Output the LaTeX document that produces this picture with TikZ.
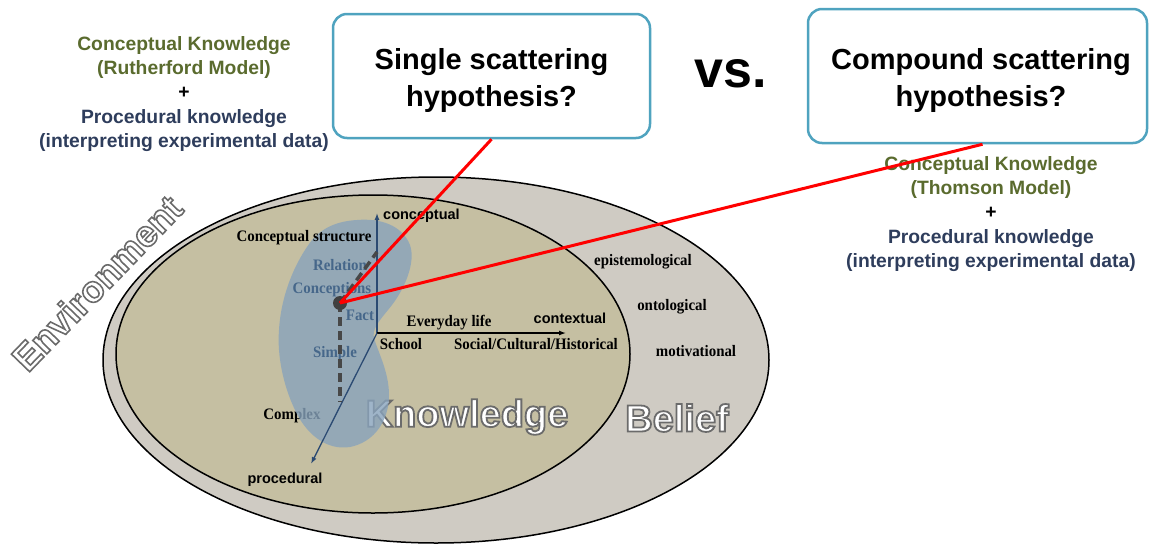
\documentclass[tikz,border=0pt]{standalone}
\usepackage{fontspec}
\setmainfont{Liberation Serif}
\setsansfont{Liberation Sans}
\usetikzlibrary{calc,arrows.meta,shapes.geometric}
\definecolor{olivetxt}{HTML}{5A6B2E}
\definecolor{navytxt}{HTML}{2E3D5C}
\definecolor{boxborder}{HTML}{4FA3BF}
\definecolor{ringfill}{HTML}{CFCBC3}
\definecolor{khaki}{HTML}{C5BFA2}
\definecolor{blobfill}{HTML}{88A3BC}
\definecolor{blobtxt}{HTML}{46678A}
\definecolor{axisblue}{HTML}{2B4A72}
\newcommand\strokedtext[3]{{\color{white}\special{pdf:code 2 Tr #1 G #2 w}#3\special{pdf:code 0 Tr 1 w}}}
\tikzset{
  x=1pt, y=-1pt,
  serif/.style={font=\fontsize{16}{16}\selectfont\bfseries, inner sep=0pt, xscale=0.93},
  bluelab/.style={serif, text=blobtxt},
  sanslab/.style={font=\sffamily\bfseries\fontsize{14.5}{15}\selectfont, inner sep=0pt},
  bigword/.style={font=\sffamily\bfseries\fontsize{38}{38}\selectfont, inner sep=0pt},
  envword/.style={font=\sffamily\bfseries\fontsize{37}{38}\selectfont, inner sep=0pt, rotate=46},
  infoblock/.style={font=\sffamily\bfseries\fontsize{19.3}{24.3}\selectfont, align=center, inner sep=0pt},
  hypbox/.style={draw=boxborder, line width=2.5pt, rounded corners=14pt, fill=white},
  hyptext/.style={font=\sffamily\bfseries\fontsize{29}{37}\selectfont, align=center, inner sep=0pt},
  axisline/.style={line width=1.3pt, -{Latex[length=7pt,width=5pt]}},
  dashedpath/.style={dash pattern=on 9pt off 5pt, line width=3.5pt, black!72},
  redline/.style={red, line width=3pt},
  ellbox/.style={draw=black, line width=1.5pt, shape=ellipse, inner sep=0pt}
}
\begin{document}
\begin{tikzpicture}
\useasboundingbox (0,0) rectangle (1149,544);
% ellipses
\node[ellbox, fill=ringfill, minimum width=666pt, minimum height=366pt] (outer) at (436,360) {};
\node[ellbox, fill=khaki, minimum width=514pt, minimum height=318pt] (inner) at (373,354) {};
% Environment
\node[envword] (env) at (97,283) {\strokedtext{0.42}{1.6}{Environment}};
% Knowledge / Belief
\node[bigword] (know) at (467,417) {\strokedtext{0.42}{1.8}{Knowledge}};
\node[bigword] (bel) at (677,418) {\strokedtext{0.42}{1.8}{Belief}};
\node[serif] (complex) at (292,416) {Complex};
% blob
\fill[blobfill, opacity=0.8] (357,220) .. controls (380,218) and (402,225) .. (410,245)
  .. controls (416,262) and (405,290) .. (388,310)
  .. controls (378,322) and (372,330) .. (374,338)
  .. controls (378,352) and (389,372) .. (389,395)
  .. controls (389,420) and (375,442) .. (350,447)
  .. controls (325,451) and (305,432) .. (295,410)
  .. controls (283,385) and (277,355) .. (279,330)
  .. controls (281,295) and (295,262) .. (312,240)
  .. controls (324,226) and (340,221) .. (357,220) -- cycle;
% axes
\coordinate (O) at (377,333);
\coordinate (ctop) at (377,213);
\coordinate (cright) at (566,333);
\coordinate (cproc) at (311,464);
\draw[axisline, axisblue] (O) -- (ctop);
\draw[axisline, black] (O) -- (cright);
\draw[axisline, axisblue] (O) -- (cproc);
% labels
\node[sanslab, anchor=west] (lconc) at (383,216) {conceptual};
\node[sanslab] (lcont) at (570,318) {contextual};
\node[sanslab] (lproc) at (285,480) {procedural};
\node[serif] (cstruct) at (304,238) {Conceptual structure};
\node[bluelab] (rel) at (340,265) {Relation};
\node[bluelab] (concs) at (332,290) {Conceptions};
\node[bluelab] (fact) at (360,315) {Fact};
\node[bluelab] (simple) at (335,354) {Simple};
\node[serif] (school) at (401,344) {School};
\node[serif] (every) at (449,323) {Everyday life};
\node[serif] (social) at (536,344) {Social/Cultural/Historical};
\node[serif] (epi) at (643,262) {epistemological};
\node[serif] (onto) at (672,307) {ontological};
\node[serif] (moti) at (696,351) {motivational};
% dashed lines and dot
\coordinate (dup) at (377,252);
\coordinate (ddown) at (340,402);
\coordinate (dotc) at (340,303);
\draw[dashedpath] (dotc) -- (dup);
\draw[dashedpath] (dotc) -- (ddown);
\node[circle, fill=black!75, minimum size=14pt, inner sep=0pt] (dot) at (dotc) {};
% text blocks
\node[infoblock] (left) at (184,94) {\textcolor{olivetxt}{Conceptual Knowledge}\\ \textcolor{olivetxt}{(Rutherford Model)}\\ \textcolor{black}{+}\\ \textcolor{navytxt}{Procedural knowledge}\\ \textcolor{navytxt}{(interpreting experimental data)}};
\node[infoblock] (right) at (991,214) {\textcolor{olivetxt}{Conceptual Knowledge}\\ \textcolor{olivetxt}{(Thomson Model)}\\ \textcolor{black}{+}\\ \textcolor{navytxt}{Procedural knowledge}\\ \textcolor{navytxt}{(interpreting experimental data)}};
% boxes
\node[hypbox, minimum width=317pt, minimum height=124pt] (box1) at (491.5,76) {};
\node[hyptext] (box1txt) at (491.5,80) {Single scattering\\hypothesis?};
\node[hypbox, minimum width=339pt, minimum height=134pt] (box2) at (977.5,76) {};
\node[hyptext] (box2txt) at (981,80) {Compound scattering\\hypothesis?};
\node[font=\sffamily\bfseries\fontsize{52}{52}\selectfont, inner sep=0pt] (vs) at (731,74) {vs.};
% red lines
\coordinate (b2end) at ($(box2.south)+(5,0)$);
\draw[redline] (dot.center) -- (box1.south);
\draw[redline] (dot.center) -- (b2end);
\end{tikzpicture}
\end{document}
